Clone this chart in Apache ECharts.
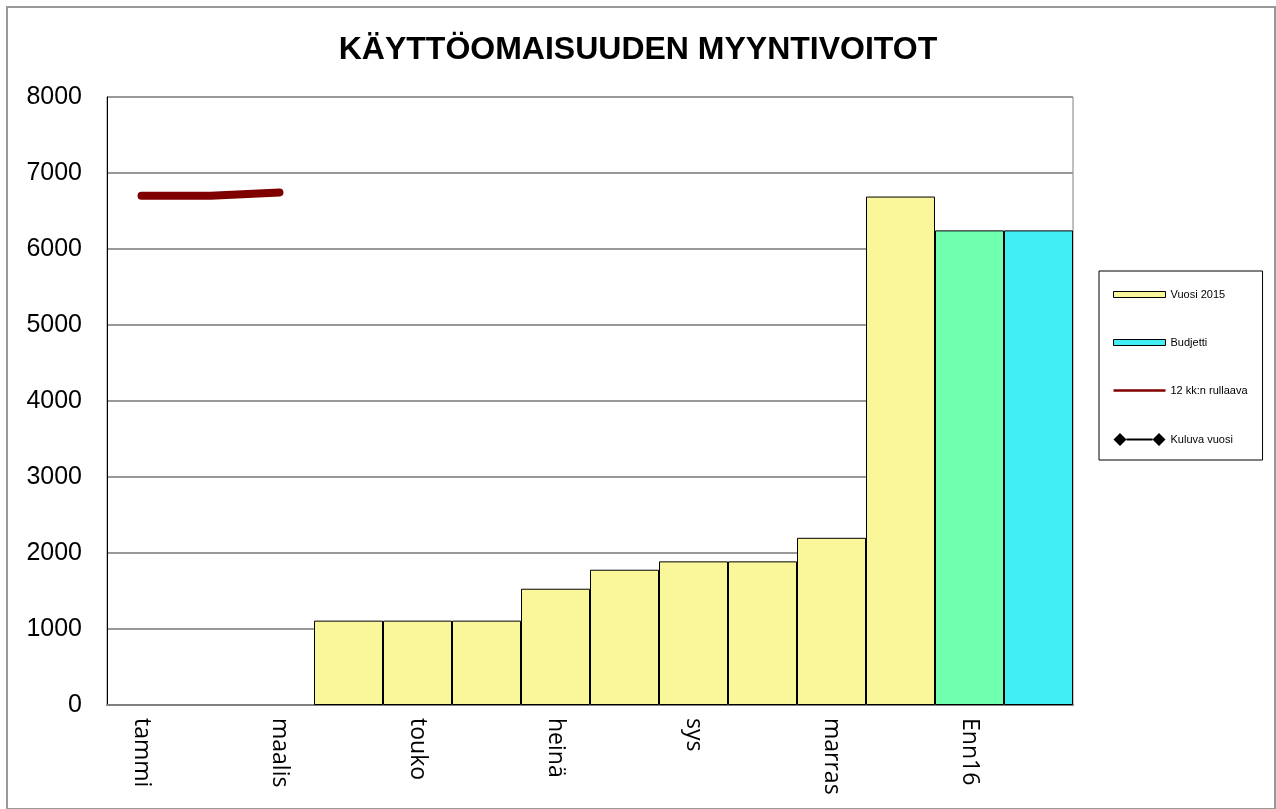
<!DOCTYPE html>
<html>
<head>
<meta charset="utf-8">
<script src="https://cdn.jsdelivr.net/npm/echarts@6/dist/echarts.min.js"></script>
<style>
  html, body { margin: 0; padding: 0; background: #fff; }
  #chart { width: 1276px; height: 809px; }
</style>
</head>
<body>
<div id="chart"></div>
<script>
var chart = echarts.init(document.getElementById('chart'));

var months = ['tammi', 'helmi', 'maalis', 'huhti', 'touko', 'kesä', 'heinä', 'elo', 'sys', 'loka', 'marras', 'joulu', 'Enn16', 'Bud16'];
var vuosi2015 = [null, null, null, 1110, 1110, 1110, 1530, 1780, 1890, 1890, 2200, 6690, 6245, null];
var budjetti = [null, null, null, null, null, null, null, null, null, null, null, null, null, 6245];
var rullaava = [6700, 6700, 6745, null, null, null, null, null, null, null, null, null, null, null];
var kuluva = [];
var yTicks = [0, 1000, 2000, 3000, 4000, 5000, 6000, 7000, 8000];

// the forecast bar (Enn16) is drawn green in the original
var vuosiData = vuosi2015.map((v, i) => months[i] === 'Enn16' ? { value: v, itemStyle: { color: '#70FFAE' } } : v);

var barIcon = 'path://M0,0 L52,0 L52,6 L0,6 Z';
var lineIcon = 'path://M0,0 L52,0 L52,2.5 L0,2.5 Z';
var diamondIcon = 'path://M0,6.5 L6.5,0 L13,6.5 L6.5,13 Z M13,5.5 L39,5.5 L39,7.5 L13,7.5 Z M39,6.5 L45.5,0 L52,6.5 L45.5,13 Z';

chart.setOption({
  animation: false,
  textStyle: { fontFamily: 'Liberation Sans' },
  title: {
    text: 'KÄYTTÖOMAISUUDEN MYYNTIVOITOT',
    left: 'center',
    top: 29,
    textStyle: { fontSize: 32, fontWeight: 'bold', color: '#000', fontFamily: 'Liberation Sans' }
  },
  graphic: [{
    type: 'rect',
    shape: { x: 7, y: 7, width: 1268, height: 802 },
    style: { fill: 'none', stroke: '#999', lineWidth: 2 },
    silent: true
  }],
  legend: {
    orient: 'vertical',
    left: 1099,
    top: 271,
    padding: [18, 15, 14, 14],
    itemGap: 37,
    itemWidth: 52,
    itemHeight: 13,
    borderColor: '#000',
    borderWidth: 1,
    textStyle: { fontSize: 11, color: '#000' },
    data: [
      { name: 'Vuosi 2015', icon: barIcon, itemStyle: { color: '#FAF79B', borderColor: '#000', borderWidth: 1 } },
      { name: 'Budjetti', icon: barIcon, itemStyle: { color: '#41EEF4', borderColor: '#000', borderWidth: 1 } },
      { name: '12 kk:n rullaava', icon: lineIcon, itemStyle: { color: '#800000' } },
      { name: 'Kuluva vuosi', icon: diamondIcon, itemStyle: { color: '#000' } }
    ]
  },
  grid: {
    left: 107,
    right: 203,
    top: 97,
    bottom: 104,
    show: true,
    borderColor: '#808080',
    borderWidth: 1
  },
  xAxis: {
    type: 'category',
    data: months,
    boundaryGap: true,
    axisLine: { lineStyle: { color: '#808080', width: 2 } },
    axisTick: { show: false },
    axisLabel: {
      interval: 1,
      rotate: -90,
      margin: 13,
      fontSize: 23,
      color: '#000',
      fontFamily: 'Open Sans'
    }
  },
  yAxis: {
    type: 'value',
    min: 0,
    max: 8000,
    interval: 1000,
    axisLine: { show: true, lineStyle: { color: '#000', width: 1 } },
    axisTick: { show: false },
    splitLine: { lineStyle: { color: '#999', width: 2 } },
    axisLabel: {
      fontSize: 25,
      color: '#000',
      margin: 25,
      formatter: v => yTicks.indexOf(v) >= 0 ? String(v) : ''
    }
  },
  series: [
    {
      name: 'Vuosi 2015',
      type: 'bar',
      data: vuosiData,
      barWidth: '100%',
      barGap: '-100%',
      itemStyle: { color: '#FAF79B', borderColor: '#000', borderWidth: 1 }
    },
    {
      name: 'Budjetti',
      type: 'bar',
      data: budjetti,
      barWidth: '100%',
      barGap: '-100%',
      itemStyle: { color: '#41EEF4', borderColor: '#000', borderWidth: 1 }
    },
    {
      name: '12 kk:n rullaava',
      type: 'line',
      data: rullaava,
      symbol: 'none',
      lineStyle: { color: '#800000', width: 8, cap: 'round' },
      itemStyle: { color: '#800000' }
    },
    {
      name: 'Kuluva vuosi',
      type: 'line',
      data: kuluva,
      symbol: 'diamond',
      lineStyle: { color: '#000', width: 2 },
      itemStyle: { color: '#000' }
    }
  ]
});
</script>
</body>
</html>
